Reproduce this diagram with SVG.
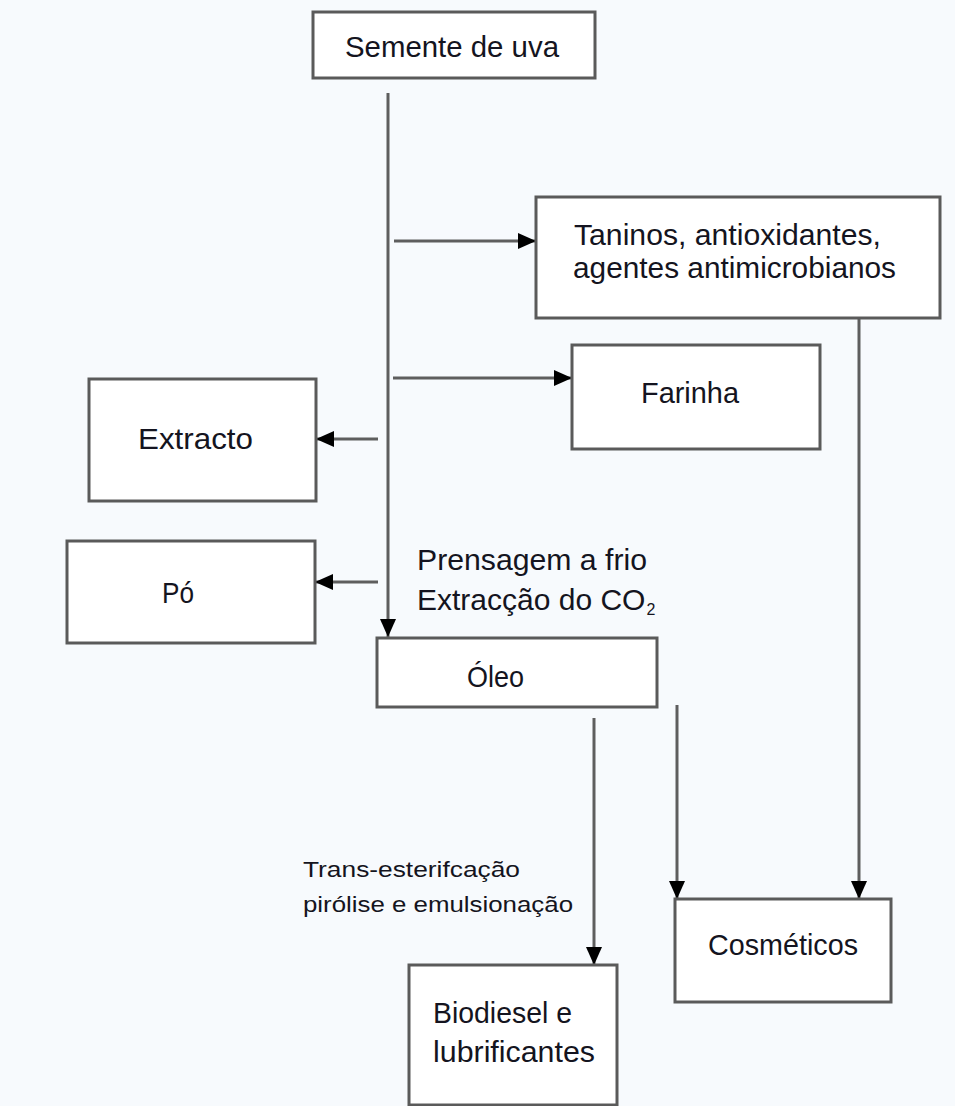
<svg xmlns="http://www.w3.org/2000/svg" width="955" height="1106" viewBox="0 0 955 1106">
  <style>
    .box { fill: #ffffff; stroke: #5a5a5a; stroke-width: 3; }
    .lbl { font-family: "Liberation Sans", Arial, sans-serif; font-size: 30px; fill: #141420; }
    .sm { font-family: "Liberation Sans", Arial, sans-serif; font-size: 22px; fill: #141420; }
    .edge { stroke: #5e5e5e; stroke-width: 3; fill: none; marker-end: url(#arr); }
  </style>
  <defs>
    <marker id="arr" markerUnits="userSpaceOnUse" markerWidth="18" markerHeight="16" viewBox="0 0 18 16" refX="18" refY="8" orient="auto">
      <path d="M0,0 L18,8 L0,16 Z" fill="#000000"/>
    </marker>
  </defs>
  <rect x="0" y="0" width="955" height="1106" fill="#f7fafd"/>

  <g id="connectors">
    <line class="edge" x1="388" y1="93" x2="388" y2="637"/>
    <line class="edge" x1="394" y1="241" x2="536" y2="241"/>
    <line class="edge" x1="393" y1="378" x2="572" y2="378"/>
    <line class="edge" x1="378" y1="439" x2="316" y2="439"/>
    <line class="edge" x1="378" y1="582" x2="315" y2="582"/>
    <line class="edge" x1="594" y1="718" x2="594" y2="965"/>
    <line class="edge" x1="677" y1="705" x2="677" y2="899"/>
    <line class="edge" x1="859" y1="318" x2="859" y2="899"/>
  </g>

  <g id="semente">
    <rect class="box" x="313" y="12" width="282" height="66"/>
    <text class="lbl" x="345" y="57" textLength="214" lengthAdjust="spacingAndGlyphs">Semente de uva</text>
  </g>

  <g id="taninos">
    <rect class="box" x="536" y="197" width="404" height="121"/>
    <text class="lbl" x="574" y="245" textLength="307" lengthAdjust="spacingAndGlyphs">Taninos, antioxidantes,</text>
    <text class="lbl" x="573" y="278" textLength="323" lengthAdjust="spacingAndGlyphs">agentes antimicrobianos</text>
  </g>

  <g id="farinha">
    <rect class="box" x="572" y="345" width="248" height="104"/>
    <text class="lbl" x="641" y="403" textLength="98" lengthAdjust="spacingAndGlyphs">Farinha</text>
  </g>

  <g id="extracto">
    <rect class="box" x="89" y="379" width="227" height="122"/>
    <text class="lbl" x="138" y="449" textLength="115" lengthAdjust="spacingAndGlyphs">Extracto</text>
  </g>

  <g id="po">
    <rect class="box" x="67" y="541" width="248" height="102"/>
    <text class="lbl" x="162" y="603" textLength="32" lengthAdjust="spacingAndGlyphs">Pó</text>
  </g>

  <g id="processo-label">
    <text class="lbl" x="417" y="570" textLength="230" lengthAdjust="spacingAndGlyphs">Prensagem a frio</text>
    <text class="lbl" x="417" y="610" font-size="29">Extracção do CO<tspan dx="1" dy="5" font-size="16">2</tspan></text>
  </g>

  <g id="oleo">
    <rect class="box" x="377" y="638" width="280" height="69"/>
    <text class="lbl" x="467" y="687" textLength="57" lengthAdjust="spacingAndGlyphs">Óleo</text>
  </g>

  <g id="trans-label">
    <text class="sm" x="303" y="877" textLength="217" lengthAdjust="spacingAndGlyphs">Trans-esterifcação</text>
    <text class="sm" x="303" y="912" textLength="270" lengthAdjust="spacingAndGlyphs">pirólise e emulsionação</text>
  </g>

  <g id="cosmeticos">
    <rect class="box" x="675" y="899" width="216" height="103"/>
    <text class="lbl" x="708" y="955" textLength="150" lengthAdjust="spacingAndGlyphs">Cosméticos</text>
  </g>

  <g id="biodiesel">
    <rect class="box" x="409" y="965" width="208" height="140"/>
    <text class="lbl" x="433" y="1023" textLength="139" lengthAdjust="spacingAndGlyphs">Biodiesel e</text>
    <text class="lbl" x="433" y="1062" textLength="162" lengthAdjust="spacingAndGlyphs">lubrificantes</text>
  </g>
</svg>
